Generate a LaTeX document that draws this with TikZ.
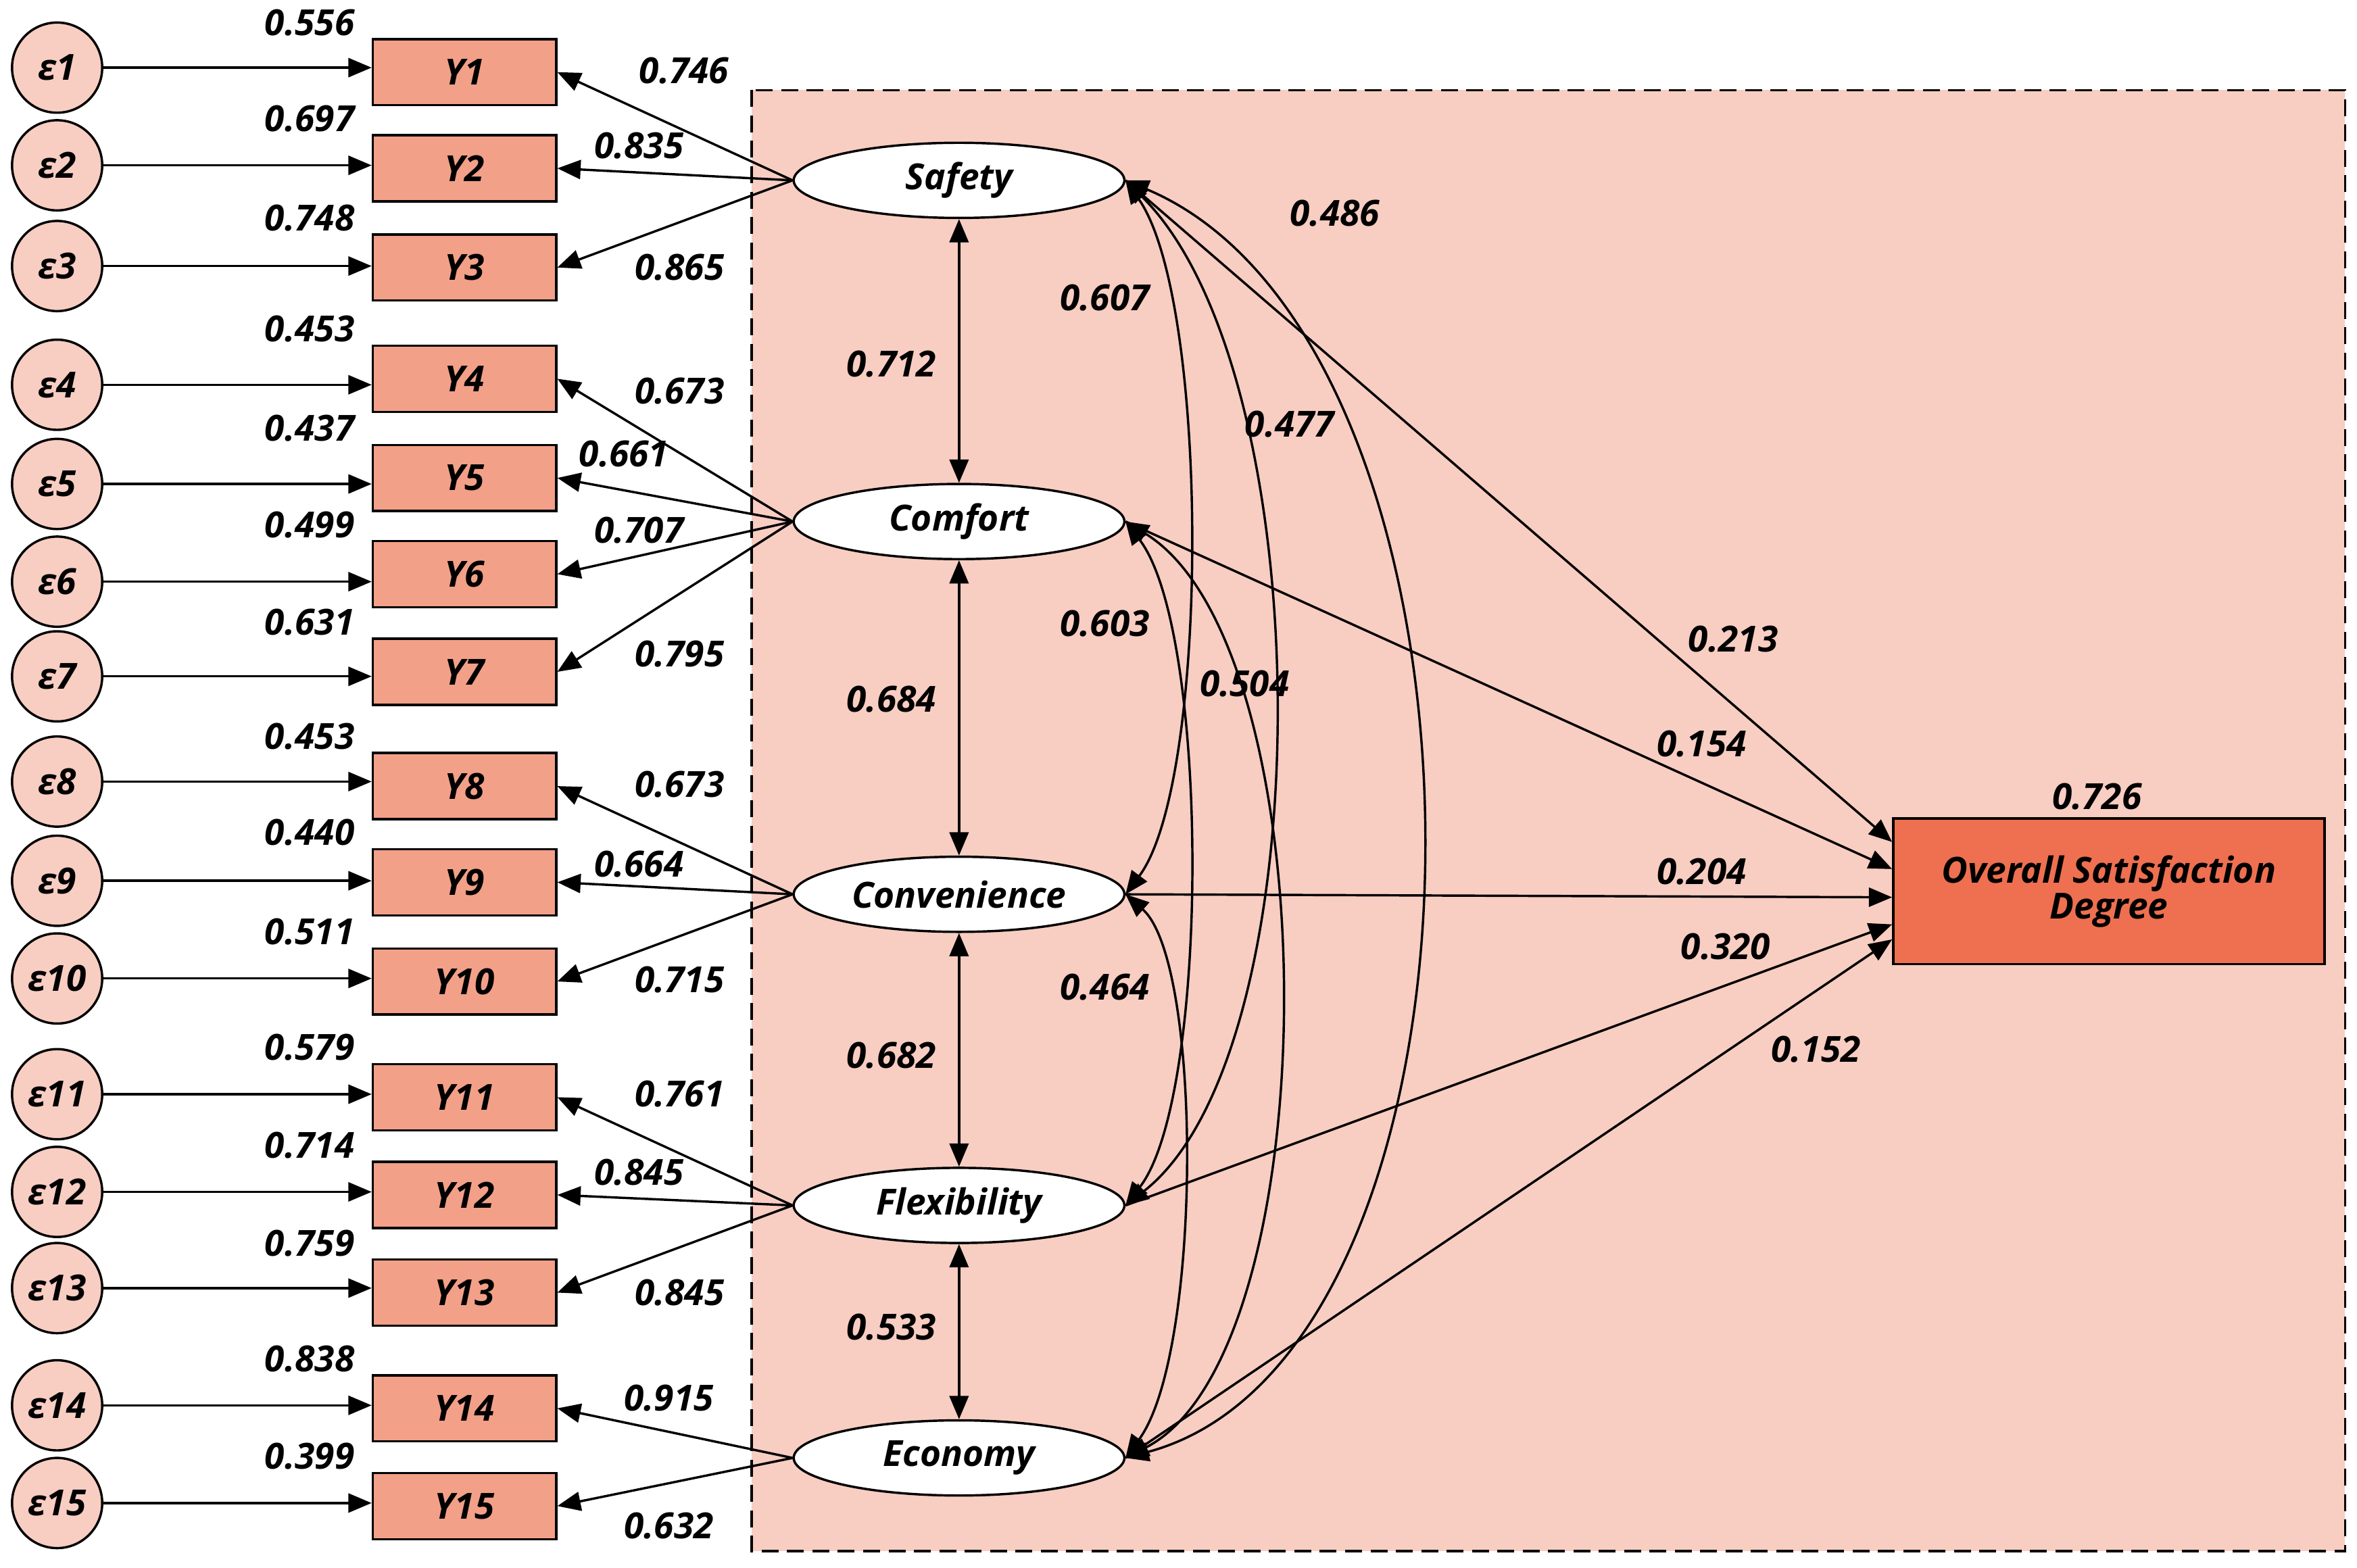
\documentclass[tikz,border=0pt]{standalone}
\usepackage{fontspec}
\setmainfont{Open Sans}
\usetikzlibrary{arrows.meta,shapes.geometric}
\definecolor{bg}{HTML}{F8CDC2}
\definecolor{bx}{HTML}{F2A088}
\definecolor{ov}{HTML}{EE7050}
\begin{document}
\begin{tikzpicture}[x=0.025cm,y=-0.025cm,
  every node/.style={font=\fontsize{17}{20}\selectfont\bfseries\itshape},
  err/.style={circle,draw,line width=1.1pt,fill=bg,minimum size=60*0.025cm,inner sep=0},
  obs/.style={draw,line width=1.1pt,fill=bx,minimum width=122*0.025cm,minimum height=44*0.025cm,inner sep=0},
  lat/.style={ellipse,draw,line width=1.1pt,fill=white,minimum width=220*0.025cm,minimum height=50*0.025cm,inner sep=0},
  lab/.style={inner sep=1pt},
  arr/.style={line width=1.1pt,-{Triangle[length=11pt,width=9pt]}},
  darr/.style={line width=1.1pt,{Triangle[length=11pt,width=9pt]}-{Triangle[length=11pt,width=9pt]}}]
\useasboundingbox (0,0) rectangle (1568,1043);
\fill[bg] (500,60) rectangle (1560,1032);
\draw[line width=1.1pt,dash pattern=on 8pt off 4pt] (500,60) rectangle (1560,1032);
\foreach \i/\ey/\by/\v in {1/45/48/0.556,2/110/112/0.697,3/177/178/0.748,4/256/252/0.453,5/322/318/0.437,6/387/382/0.499,7/450/447/0.631,8/520/523/0.453,9/586/587/0.440,10/651/653/0.511,11/728/730/0.579,12/793/795/0.714,13/857/860/0.759,14/935/937/0.838,15/1000/1002/0.399}{
  \node[err] (e\i) at (38,\ey) {ε\i};
  \node[obs] (Y\i) at (309,\by) {Y\i};
  \draw[arr] (e\i.east) -- (Y\i.west|-e\i.east);
  \node[lab] (el\i) at (206,\by-33) {\v};
}
\node[lat] (S) at (638,120) {Safety};
\node[lat] (C) at (638,347) {Comfort};
\node[lat] (V) at (638,595) {Convenience};
\node[lat] (F) at (638,802) {Flexibility};
\node[lat] (E) at (638,970) {Economy};
\node[draw,line width=1.1pt,fill=ov,minimum width=287*0.025cm,minimum height=97*0.025cm,align=center,inner sep=0] (O) at (1403,593) {Overall Satisfaction\\[-3pt]Degree};
\node[lab] at (1395,530) {0.726};
% loadings
\foreach \l/\ys/\lx/\ly/\v in {S/1/455/47/0.746,S/2/425/97/0.835,S/3/452/178/0.865,
  C/4/452/260/0.673,C/5/415/302/0.661,C/6/425/353/0.707,C/7/452/435/0.795,
  V/8/452/522/0.673,V/9/425/575/0.664,V/10/452/652/0.715,
  F/11/452/728/0.761,F/12/425/780/0.845,F/13/452/860/0.845,
  E/14/445/930/0.915,E/15/445/1015/0.632}{
  \draw[arr] (\l.west) -- (Y\ys.east);
  \node[lab] at (\lx,\ly) {\v};
}
% vertical correlations
\draw[darr] (S) -- (C); \node[lab] at (593,242) {0.712};
\draw[darr] (C) -- (V); \node[lab] at (593,465) {0.684};
\draw[darr] (V) -- (F); \node[lab] at (593,702) {0.682};
\draw[darr] (F) -- (E); \node[lab] at (593,883) {0.533};
% curved correlations
\draw[darr] (S.east) .. controls (805,200) and (805,520) .. (V.east);
\node[lab] at (735,198) {0.607};
\draw[darr] (S.east) .. controls (880,250) and (880,700) .. (F.east);
\node[lab] at (858,282) {0.477};
\draw[darr] (S.east) .. controls (1010,230) and (1010,900) .. (E.east);
\node[lab] at (888,142) {0.486};
\draw[darr] (C.east) .. controls (805,420) and (805,730) .. (F.east);
\node[lab] at (735,415) {0.603};
\draw[darr] (C.east) .. controls (885,430) and (885,900) .. (E.east);
\node[lab] at (828,455) {0.504};
\draw[darr] (V.east) .. controls (800,640) and (800,900) .. (E.east);
\node[lab] at (735,657) {0.464};
% paths to overall
\draw[arr] (S.east) -- ([yshift=0.82cm]O.west); \node[lab] at (1153,425) {0.213};
\draw[arr] (C.east) -- ([yshift=0.37cm]O.west); \node[lab] at (1132,495) {0.154};
\draw[arr] (V.east) -- ([yshift=-0.1cm]O.west); \node[lab] at (1132,580) {0.204};
\draw[arr] (F.east) -- ([yshift=-0.55cm]O.west); \node[lab] at (1148,630) {0.320};
\draw[arr] (E.east) -- ([yshift=-0.8cm]O.west); \node[lab] at (1208,698) {0.152};
\end{tikzpicture}
\end{document}
